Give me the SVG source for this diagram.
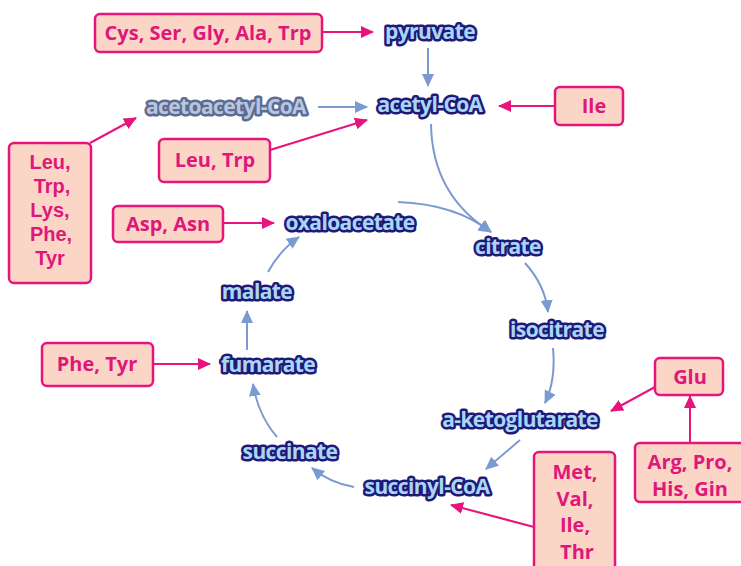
<svg xmlns="http://www.w3.org/2000/svg" width="741" height="566" viewBox="0 0 741 566">
<style>
.box rect{fill:#fbd6c6;stroke:#e6147c;stroke-width:2.5}
.box text{fill:#e0177a;font-family:"Open Sans","Liberation Sans",sans-serif;font-weight:bold;font-size:20px;text-anchor:middle}
.box text.tight{font-family:"Liberation Sans",sans-serif;font-size:20px}
.met text{fill:#a9d6f6;stroke:#1f1a78;stroke-width:5;paint-order:stroke;stroke-linejoin:round;font-family:"Open Sans","Liberation Sans",sans-serif;font-weight:bold;font-size:21px;text-anchor:middle;letter-spacing:-0.6px}
.met.gray text{fill:#b9c6de;stroke:#5d6c92}
.blue{fill:none;stroke:#7b9ad2;stroke-width:2;marker-end:url(#ab)}
.pink{fill:none;stroke:#e6147c;stroke-width:2;marker-end:url(#ap)}
</style>
<defs>
<marker id="ab" markerUnits="userSpaceOnUse" markerWidth="14" markerHeight="14" viewBox="0 0 14 14" refX="12" refY="7" orient="auto"><path d="M0,1 L13,7 L0,13 Z" fill="#7b9ad2"/></marker>
<marker id="ap" markerUnits="userSpaceOnUse" markerWidth="14" markerHeight="14" viewBox="0 0 14 14" refX="12" refY="7" orient="auto"><path d="M0,1 L13,7 L0,13 Z" fill="#e6147c"/></marker>
</defs>
<rect width="741" height="566" fill="#ffffff"/>
<g id="connectors">
<path class="pink" d="M322,32 L373,32"/>
<path class="blue" d="M428,48 L428,86"/>
<path class="blue" d="M318,107 L367,107"/>
<path class="pink" d="M555,106 L499,106"/>
<path class="pink" d="M90,143 L136,118"/>
<path class="pink" d="M270,150 L367,120"/>
<path class="pink" d="M223,223 L274,223"/>
<path class="pink" d="M153,364 L210,364"/>
<path class="blue" d="M431,124 Q432,195 491,232"/>
<path class="blue" d="M398,202 Q455,204 491,232"/>
<path class="blue" d="M525,263 Q545,285 548,312"/>
<path class="blue" d="M553,348 Q556,380 545,403"/>
<path class="blue" d="M520,440 L486,469"/>
<path class="blue" d="M354,487 Q330,483 312,468"/>
<path class="blue" d="M277,437 Q258,415 253,384"/>
<path class="blue" d="M247,350 L247,311"/>
<path class="blue" d="M268,272 Q280,250 299,237"/>
<path class="pink" d="M655,387 L611,411"/>
<path class="pink" d="M690,443 L690,396"/>
<path class="pink" d="M534,527 L451,505"/>
</g>
<g id="box-cys" class="box"><rect x="95" y="14" width="227" height="38" rx="5"/><text x="208" y="40">Cys, Ser, Gly, Ala, Trp</text></g>
<g id="box-ile" class="box"><rect x="555" y="87" width="68" height="38" rx="5"/><text x="594" y="113">Ile</text></g>
<g id="box-leu5" class="box"><rect x="9" y="143" width="82" height="140" rx="5"/><text class="tight" x="50" y="169">Leu,</text><text class="tight" x="52" y="193">Trp,</text><text class="tight" x="50" y="217">Lys,</text><text class="tight" x="51" y="241">Phe,</text><text class="tight" x="50" y="265">Tyr</text></g>
<g id="box-leutrp" class="box"><rect x="159" y="139" width="111" height="43" rx="5"/><text x="215" y="167">Leu, Trp</text></g>
<g id="box-asp" class="box"><rect x="113" y="206" width="110" height="36" rx="5"/><text x="168" y="231">Asp, Asn</text></g>
<g id="box-phe" class="box"><rect x="42" y="343" width="111" height="43" rx="5"/><text x="97" y="371">Phe, Tyr</text></g>
<g id="box-glu" class="box"><rect x="655" y="358" width="68" height="37" rx="5"/><text x="690" y="384">Glu</text></g>
<g id="box-arg" class="box"><rect x="635" y="443" width="112" height="59" rx="5"/><text x="690" y="469">Arg, Pro,</text><text x="690" y="496">His, Gin</text></g>
<g id="box-met" class="box"><rect x="534" y="452" width="81" height="120" rx="5"/><text x="575" y="479">Met,</text><text x="575" y="506">Val,</text><text x="575" y="532">Ile,</text><text x="577" y="559">Thr</text></g>
<g id="pyruvate" class="met"><text x="430" y="39">pyruvate</text></g>
<g id="acetyl-coa" class="met"><text x="430" y="112">acetyl-CoA</text></g>
<g id="acetoacetyl-coa" class="met gray"><text x="226" y="114">acetoacetyl-CoA</text></g>
<g id="oxaloacetate" class="met"><text x="350" y="230">oxaloacetate</text></g>
<g id="citrate" class="met"><text x="508" y="254">citrate</text></g>
<g id="isocitrate" class="met"><text x="557" y="337">isocitrate</text></g>
<g id="a-ketoglutarate" class="met"><text x="520" y="427">a-ketoglutarate</text></g>
<g id="succinyl-coa" class="met"><text x="427" y="494">succinyl-CoA</text></g>
<g id="succinate" class="met"><text x="290" y="459">succinate</text></g>
<g id="fumarate" class="met"><text x="268" y="372">fumarate</text></g>
<g id="malate" class="met"><text x="257" y="299">malate</text></g>
</svg>
